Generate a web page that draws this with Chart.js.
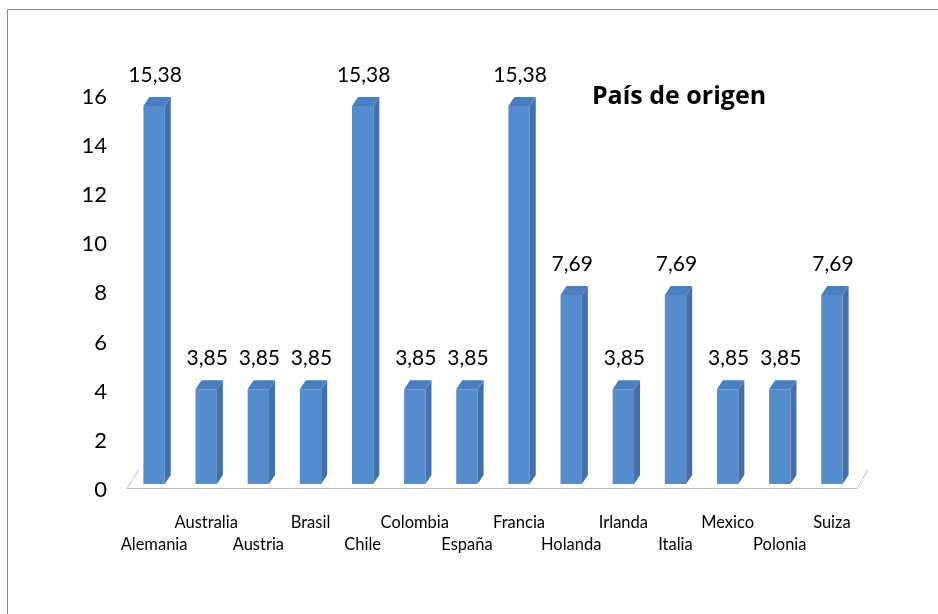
<!DOCTYPE html>
<html>
<head>
<meta charset="utf-8">
<script src="https://cdn.jsdelivr.net/npm/chart.js@4.4.1/dist/chart.umd.min.js"></script>
<style>
  html, body { margin: 0; padding: 0; background: #fff; overflow: hidden; }
  #wrap { width: 938px; height: 614px; position: relative; }
</style>
</head>
<body>
<div id="wrap"><canvas id="myChart" width="938" height="614"></canvas></div>
<script>
// chart data
const categories = ["Alemania", "Australia", "Austria", "Brasil", "Chile", "Colombia", "España",
  "Francia", "Holanda", "Irlanda", "Italia", "Mexico", "Polonia", "Suiza"];
const percentages = [15.38, 3.85, 3.85, 3.85, 15.38, 3.85, 3.85, 15.38, 7.69, 3.85, 7.69, 3.85, 3.85, 7.69];
const yTicks = [0, 2, 4, 6, 8, 10, 12, 14, 16];
const chartTitle = "País de origen";

const FONT = "Lato, 'Open Sans', sans-serif";

// labels alternate between two rows, like the original
const xLabels = categories.map((c, i) => (i % 2 ? [c, ""] : ["", c]));

// draws frame, floor, 3d faces, value labels and title
const excel3d = {
  id: "excel3d",
  beforeDraw(chart) {
    const ctx = chart.ctx;
    ctx.save();
    ctx.strokeStyle = "#868686";
    ctx.lineWidth = 1;
    ctx.beginPath();
    ctx.moveTo(7.5, chart.height);
    ctx.lineTo(7.5, 9.5);
    ctx.lineTo(chart.width, 9.5);
    ctx.stroke();
    ctx.restore();
  },
  beforeDatasetsDraw(chart) {
    const { ctx, chartArea } = chart;
    const y = chartArea.bottom + 4.5;
    ctx.save();
    ctx.strokeStyle = "#BFBFBF";
    ctx.lineWidth = 1;
    ctx.beginPath();
    ctx.moveTo(chartArea.left + 11, y - 19);
    ctx.lineTo(chartArea.left - 1, y);
    ctx.lineTo(chartArea.right - 1, y);
    ctx.lineTo(chartArea.right + 10, y - 19);
    ctx.stroke();
    ctx.restore();
  },
  afterDatasetsDraw(chart) {
    const ctx = chart.ctx;
    const dx = 6, dy = 9;
    const meta = chart.getDatasetMeta(0);
    ctx.save();
    meta.data.forEach((bar, i) => {
      const left = bar.x - bar.width / 2;
      const right = bar.x + bar.width / 2;
      const top = bar.y;
      const base = bar.base;
      // side
      ctx.fillStyle = "#4470A8";
      ctx.beginPath();
      ctx.moveTo(right, top);
      ctx.lineTo(right + dx, top - dy);
      ctx.lineTo(right + dx, base - dy);
      ctx.lineTo(right, base);
      ctx.closePath();
      ctx.fill();
      // top
      ctx.fillStyle = "#4A7EBE";
      ctx.beginPath();
      ctx.moveTo(left, top);
      ctx.lineTo(left + dx, top - dy);
      ctx.lineTo(right + dx, top - dy);
      ctx.lineTo(right, top);
      ctx.closePath();
      ctx.fill();
      // value label
      ctx.fillStyle = "#000";
      ctx.font = "21px " + FONT;
      ctx.textAlign = "center";
      ctx.textBaseline = "middle";
      ctx.fillText(percentages[i].toFixed(2).replace(".", ","), bar.x + 1, top - 31);
    });
    // title inside the plot
    ctx.font = "bold 25px 'Open Sans', sans-serif";
    ctx.textAlign = "center";
    ctx.textBaseline = "middle";
    ctx.fillText(chartTitle, 679, 97);
    ctx.restore();
  },
};

const config = {
  type: "bar",
  data: {
    labels: xLabels,
    datasets: [
      {
        label: chartTitle,
        data: percentages,
        backgroundColor: "#558CCD",
        borderWidth: 0,
        barPercentage: 0.41,
        categoryPercentage: 1,
      },
    ],
  },
  options: {
    responsive: false,
    animation: false,
    layout: {
      padding: { top: 90.7, right: 80, left: 0, bottom: 0 },
    },
    scales: {
      y: {
        min: 0,
        max: 16,
        afterBuildTicks(scale) {
          scale.ticks = yTicks.map((v) => ({ value: v }));
        },
        afterFit(scale) {
          scale.width = 128;
        },
        grid: { display: false, drawTicks: false },
        border: { display: false },
        ticks: {
          padding: 21,
          labelOffset: 6,
          color: "#000",
          font: { family: FONT, size: 22 },
        },
      },
      x: {
        afterFit(scale) {
          scale.height = 130;
        },
        grid: { display: false, drawTicks: false },
        border: { display: false },
        ticks: {
          padding: 28,
          autoSkip: false,
          maxRotation: 0,
          minRotation: 0,
          color: "#000",
          font: { family: FONT, size: 16.5, lineHeight: 1.3 },
        },
      },
    },
    plugins: {
      legend: { display: false },
      title: { display: false },
      tooltip: { enabled: false },
    },
  },
  plugins: [excel3d],
};

const myChart = new Chart(document.getElementById("myChart"), config);
</script>
</body>
</html>
